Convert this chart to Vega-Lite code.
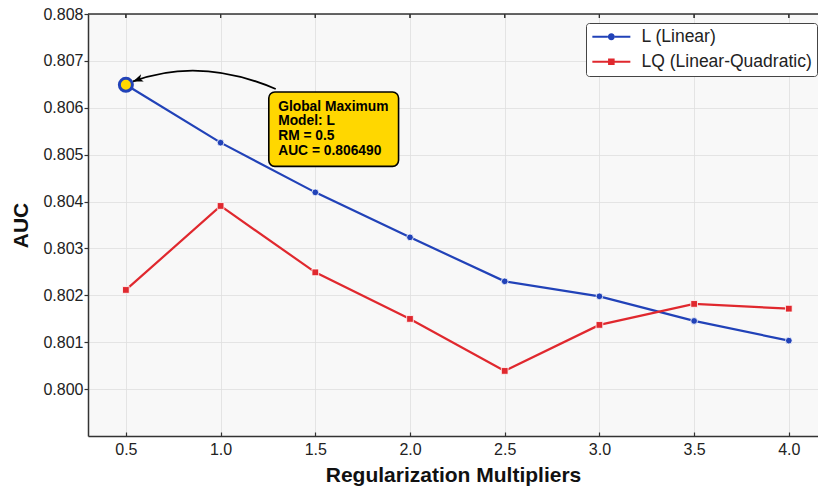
{
  "$schema": "https://vega.github.io/schema/vega-lite/v6.json",
  "width": 730,
  "height": 422,
  "autosize": {"type": "none"},
  "padding": {"left": 88, "top": 14, "right": 0, "bottom": 54},
  "background": "white",
  "config": {
    "view": {"fill": "#f8f8f8", "stroke": null},
    "font": "Liberation Sans",
    "axis": {
      "domainColor": "#333333",
      "domainWidth": 1.5,
      "tickColor": "#333333",
      "tickWidth": 1.2,
      "gridColor": "#dedede",
      "gridWidth": 0.8,
      "labelFont": "Liberation Sans",
      "labelFontSize": 16,
      "labelColor": "#222222",
      "titleFont": "Liberation Sans",
      "titleFontSize": 21,
      "titleFontWeight": "bold",
      "titleColor": "#111111"
    }
  },
  "datasets": {
    "main": [
      {"RM": 0.5, "AUC": 0.80649, "Model": "L (Linear)"},
      {"RM": 1.0, "AUC": 0.805256, "Model": "L (Linear)"},
      {"RM": 1.5, "AUC": 0.804196, "Model": "L (Linear)"},
      {"RM": 2.0, "AUC": 0.803237, "Model": "L (Linear)"},
      {"RM": 2.5, "AUC": 0.802299, "Model": "L (Linear)"},
      {"RM": 3.0, "AUC": 0.801979, "Model": "L (Linear)"},
      {"RM": 3.5, "AUC": 0.801454, "Model": "L (Linear)"},
      {"RM": 4.0, "AUC": 0.801034, "Model": "L (Linear)"},
      {"RM": 0.5, "AUC": 0.802115, "Model": "LQ (Linear-Quadratic)"},
      {"RM": 1.0, "AUC": 0.803906, "Model": "LQ (Linear-Quadratic)"},
      {"RM": 1.5, "AUC": 0.80249, "Model": "LQ (Linear-Quadratic)"},
      {"RM": 2.0, "AUC": 0.801497, "Model": "LQ (Linear-Quadratic)"},
      {"RM": 2.5, "AUC": 0.800388, "Model": "LQ (Linear-Quadratic)"},
      {"RM": 3.0, "AUC": 0.801369, "Model": "LQ (Linear-Quadratic)"},
      {"RM": 3.5, "AUC": 0.801817, "Model": "LQ (Linear-Quadratic)"},
      {"RM": 4.0, "AUC": 0.801716, "Model": "LQ (Linear-Quadratic)"}
    ]
  },
  "layer": [
    {
      "data": {"name": "main"},
      "mark": {"type": "line", "strokeWidth": 2.2},
      "encoding": {
        "x": {"field": "RM", "type": "quantitative",
          "scale": {"domain": [0.3, 4.154], "nice": false, "zero": false},
          "axis": {"title": "Regularization Multipliers", "values": [0.5, 1.0, 1.5, 2.0, 2.5, 3.0, 3.5, 4.0], "format": ".1f", "tickSize": -4, "labelPadding": 9, "titlePadding": 7}},
        "y": {"field": "AUC", "type": "quantitative",
          "scale": {"domain": [0.799, 0.808], "nice": false, "zero": false},
          "axis": {"title": "AUC", "values": [0.8, 0.801, 0.802, 0.803, 0.804, 0.805, 0.806, 0.807, 0.808], "format": ".3f", "tickSize": 4, "labelPadding": 1, "titlePadding": 11}},
        "color": {"field": "Model", "type": "nominal",
          "scale": {"domain": ["L (Linear)", "LQ (Linear-Quadratic)"], "range": ["#2142b8", "#e0282e"]},
          "legend": {
            "orient": "none", "legendX": 498, "legendY": 9, "title": null,
            "labelFont": "Liberation Sans", "labelFontSize": 17.5, "labelColor": "#222222", "labelLimit": 400,
            "strokeColor": "#444444", "fillColor": "white", "padding": 5, "cornerRadius": 3,
            "symbolSize": 256, "symbolStrokeWidth": 0, "labelOffset": 33, "rowPadding": 6,
            "encode": {"symbols": {"update": {
              "fill": {"scale": "color", "field": "value"},
              "fillOpacity": {"value": 1},
              "strokeWidth": {"value": 0},
              "shape": [
                {"test": "datum.label === 'LQ (Linear-Quadratic)'", "value": "M-0.925,-0.13H1.04V0.13H-0.925Z M1.86,-0.13H3.825V0.13H1.86Z M1.04,-0.41H1.86V0.41H1.04Z"},
                {"value": "M-0.925,-0.13H1.01V0.13H-0.925Z M1.89,-0.13H3.825V0.13H1.89Z M1.89,0A0.44,0.44,0,1,1,1.01,0A0.44,0.44,0,1,1,1.89,0Z"}
              ]}}}
          }}
      }
    },
    {
      "data": {"name": "main"},
      "transform": [{"filter": "datum.Model === 'L (Linear)'"}],
      "mark": {"type": "point", "shape": "circle", "filled": true, "opacity": 1, "stroke": "white", "strokeWidth": 0.8, "size": 45},
      "encoding": {
        "x": {"field": "RM", "type": "quantitative"},
        "y": {"field": "AUC", "type": "quantitative"},
        "color": {"field": "Model", "type": "nominal"}
      }
    },
    {
      "data": {"name": "main"},
      "transform": [{"filter": "datum.Model === 'LQ (Linear-Quadratic)'"}],
      "mark": {"type": "point", "shape": "square", "filled": true, "opacity": 1, "stroke": "white", "strokeWidth": 0.8, "size": 45},
      "encoding": {
        "x": {"field": "RM", "type": "quantitative"},
        "y": {"field": "AUC", "type": "quantitative"},
        "color": {"field": "Model", "type": "nominal"}
      }
    },
    {
      "data": {"name": "main"},
      "mark": {"type": "rule", "color": "#333333", "strokeWidth": 1.2},
      "encoding": {
        "x": {"field": "RM", "type": "quantitative"},
        "y": {"datum": 0.808, "type": "quantitative"},
        "y2": {"datum": 0.807915}
      }
    },
    {
      "data": {"values": [{}]},
      "mark": {"type": "rule", "color": "#333333", "strokeWidth": 1.5},
      "encoding": {
        "x": {"datum": 0.3, "type": "quantitative"},
        "x2": {"datum": 4.154},
        "y": {"datum": 0.808, "type": "quantitative"}
      }
    },
    {
      "data": {"values": [{}]},
      "mark": {"type": "point", "filled": true, "fill": "#ffd700", "stroke": "#2142b8", "strokeWidth": 3, "size": 170, "opacity": 1},
      "encoding": {"x": {"datum": 0.5, "type": "quantitative"}, "y": {"datum": 0.80649, "type": "quantitative"}}
    },
    {
      "data": {"values": [{}]},
      "mark": {"type": "point", "filled": false, "stroke": "black", "strokeWidth": 1.8, "size": 40000, "opacity": 1,
        "shape": "M0,0Q0.668,-0.25,1.427,0.076"},
      "encoding": {"x": {"datum": 0.5377, "type": "quantitative"}, "y": {"datum": 0.806563, "type": "quantitative"}}
    },
    {
      "data": {"values": [{}]},
      "mark": {"type": "point", "filled": true, "fill": "black", "strokeWidth": 0, "size": 100, "opacity": 1, "angle": -20.5,
        "shape": "M0,0L2,-0.75L1.5,0L2,0.75Z"},
      "encoding": {"x": {"datum": 0.5377, "type": "quantitative"}, "y": {"datum": 0.806563, "type": "quantitative"}}
    },
    {
      "data": {"values": [{}]},
      "mark": {"type": "rect", "fill": "#ffd700", "stroke": "black", "strokeWidth": 1.6, "cornerRadius": 6},
      "encoding": {
        "x": {"datum": 1.2545, "type": "quantitative"}, "x2": {"datum": 1.9396},
        "y": {"datum": 0.806337, "type": "quantitative"}, "y2": {"datum": 0.804751}
      }
    },
    {
      "data": {"values": [{}]},
      "mark": {"type": "text", "align": "left", "baseline": "alphabetic", "font": "Liberation Sans", "fontWeight": "bold", "fontSize": 13.8, "lineHeight": 14.8, "color": "black",
        "text": ["Global Maximum", "Model: L", "RM = 0.5", "AUC = 0.806490"]},
      "encoding": {"x": {"datum": 1.304, "type": "quantitative"}, "y": {"datum": 0.805938, "type": "quantitative"}}
    }
  ]
}
